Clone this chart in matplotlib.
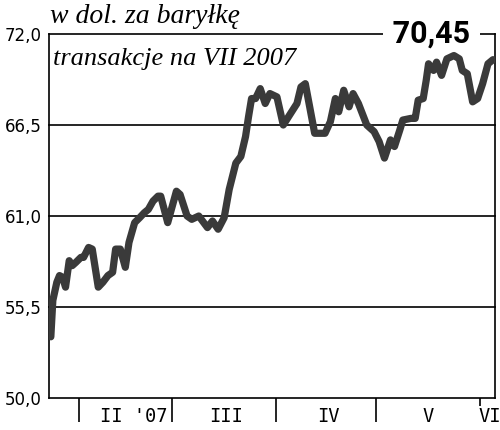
import matplotlib
matplotlib.use("Agg")
import matplotlib.pyplot as plt

# day of year 2007
days = [22.6, 23.2, 24.4, 25.2, 26.1, 27.0, 28.1, 29.0, 30.1, 31.6,
        32.4, 33.9, 35.0, 36.8, 38.2, 39.7, 41.1, 42.0, 43.4, 44.9,
        46.0, 47.7, 49.2, 50.6, 51.8, 53.2, 54.7, 55.5, 57.6, 60.2,
        61.3, 63.4, 64.8, 66.9, 69.5, 71.0, 72.7, 74.5, 76.0, 78.0,
        79.5, 80.9, 81.8, 82.7, 83.9, 85.3, 86.8, 88.2, 90.3, 92.2,
        94.4, 96.3, 97.5, 98.8, 101.6, 104.7, 106.3, 107.8, 108.8, 110.3,
        111.9, 113.1, 114.7, 117.2, 119.4, 120.9, 122.5, 124.3, 125.5, 127.1,
        128.0, 130.4, 131.7, 132.6, 134.1, 135.0, 135.7, 137.2, 138.1, 139.6,
        141.2, 143.3, 144.9, 145.8, 147.3, 148.9, 150.4, 151.9, 153.5, 155.0]
prices = [53.7, 55.9, 57.0, 57.4, 57.3, 56.7, 58.3, 58.0, 58.2, 58.5,
          58.5, 59.1, 59.0, 56.7, 57.0, 57.4, 57.6, 59.0, 59.0, 57.9,
          59.4, 60.6, 60.9, 61.2, 61.4, 61.9, 62.2, 62.2, 60.6, 62.5,
          62.3, 61.0, 60.8, 61.0, 60.3, 60.7, 60.2, 60.9, 62.6, 64.2,
          64.6, 65.8, 67.0, 68.1, 68.1, 68.7, 67.8, 68.4, 68.2, 66.5,
          67.2, 67.8, 68.8, 69.0, 66.0, 66.0, 66.7, 68.1, 67.3, 68.6,
          67.6, 68.4, 67.8, 66.5, 66.1, 65.5, 64.5, 65.6, 65.2, 66.2,
          66.8, 66.9, 66.9, 68.0, 68.1, 69.2, 70.2, 69.8, 70.3, 69.5,
          70.5, 70.7, 70.5, 69.8, 69.6, 67.9, 68.1, 69.0, 70.2, 70.45]

yticks = [50.0, 55.5, 61.0, 66.5, 72.0]
ytick_labels = ["50,0", "55,5", "61,0", "66,5", "72,0"]
month_starts = [31, 59, 90, 120]
last_month_start = 151
month_labels = ["II '07", "III", "IV", "V", "VI"]
month_label_pos = [47.5, 75.1, 105.6, 135.7, 154.1]
last_value_label = "70,45"
title1 = "w dol. za baryłkę"
title2 = "transakcje na VII 2007"

fig = plt.figure(figsize=(5, 4.3), dpi=100)
ax = fig.add_axes([0.098, 0.0744, 0.892, 0.8465])

ax.set_xlim(22.05, 155.6)
ax.set_ylim(50, 72)

for y in yticks[1:]:
    ax.axhline(y, color="black", lw=1.2, zorder=1, clip_on=False)

ax.plot(days, prices, color="#3a3a3a", lw=5.2, solid_joinstyle="round",
        solid_capstyle="round", zorder=3)

for s in ["left", "bottom", "right"]:
    ax.spines[s].set_color("black")
    ax.spines[s].set_linewidth(1.2)
ax.spines["top"].set_visible(False)

ax.set_yticks(yticks)
ax.set_yticklabels(ytick_labels, fontsize=12, family="DejaVu Sans")
ax.tick_params(axis="y", length=0, pad=5)

ax.set_xticks(month_starts)
ax.set_xticklabels([])
ax.set_xticks([last_month_start], minor=True)
ax.tick_params(axis="x", which="major", length=17, width=1.2, direction="out")
ax.tick_params(axis="x", which="minor", length=6, width=1.2, direction="out")

for lab, pos in zip(month_labels, month_label_pos):
    ax.text(pos, -0.052, lab, transform=ax.get_xaxis_transform(),
            ha="center", va="center", fontsize=13.5, family="DejaVu Sans Mono")

ax.text(136.5, 72.0, " " + last_value_label + " ", ha="center", va="center",
        fontsize=22, fontweight="bold", family="Roboto", zorder=5,
        bbox=dict(facecolor="white", edgecolor="none", pad=1.5))

fig.text(0.1, 1 - 23 / 430, title1, ha="left", va="baseline", fontsize=20,
         style="italic", family="Liberation Serif")
ax.text(0.008, 0.915, title2, transform=ax.transAxes, ha="left", va="baseline",
        fontsize=19, style="italic", family="Liberation Serif")

fig.savefig("out.png", dpi=100, facecolor="white")
